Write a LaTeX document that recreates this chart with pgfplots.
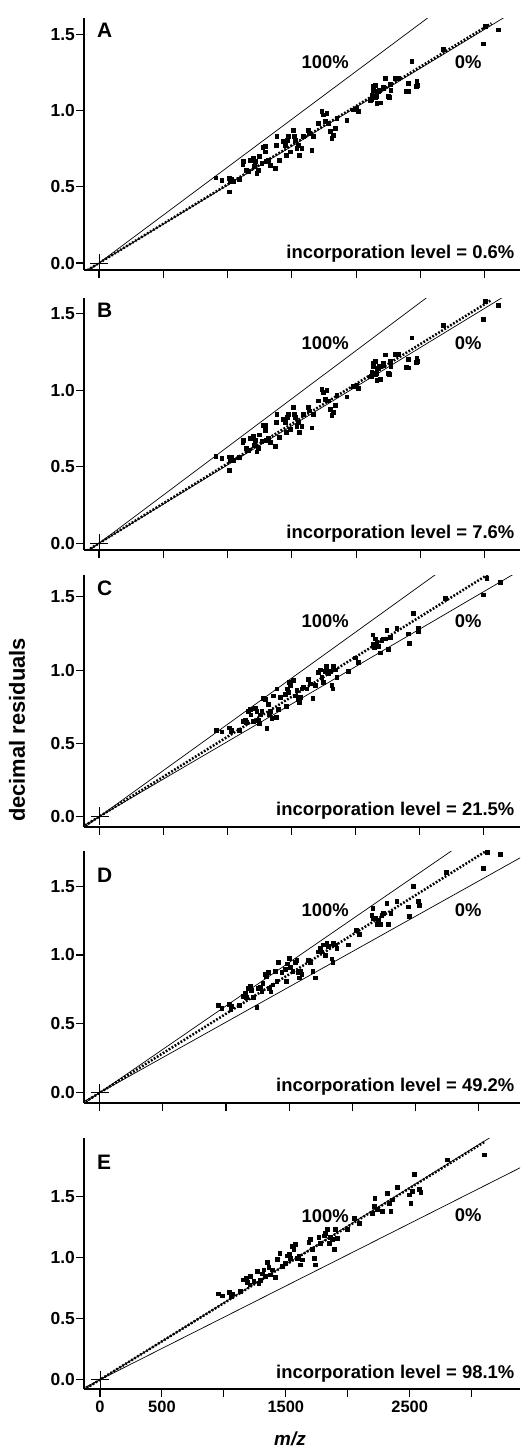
\documentclass[border=0pt]{standalone}
\usepackage{fontspec}
\setmainfont{Liberation Sans}
\usepackage{pgfplots}
\usepackage{pgfplotstable}
\pgfplotsset{compat=1.18}

% panel A (0.6%)
\pgfplotstableread{
x y
907 0.561
954 0.546
1013 0.557
1019 0.535
1032 0.551
1011 0.469
1045 0.535
1091 0.551
1117 0.651
1122 0.667
1143 0.612
1161 0.601
1174 0.678
1200 0.689
1205 0.634
1213 0.667
1226 0.590
1239 0.612
1247 0.700
1265 0.656
1273 0.761
1291 0.765
1291 0.732
1299 0.667
1317 0.673
1330 0.645
1369 0.623
1376 0.776
1382 0.831
1400 0.678
1428 0.798
1446 0.776
1454 0.711
1464 0.809
1472 0.831
1485 0.732
1511 0.875
1519 0.831
1524 0.809
1537 0.754
1550 0.776
1558 0.711
1576 0.754
1589 0.831
1628 0.875
1635 0.853
1654 0.743
1667 0.831
1705 0.919
1732 0.996
1744 0.974
1757 0.930
1771 0.985
1783 0.919
1796 0.864
1809 0.820
1822 0.842
1835 0.886
1848 0.952
1926 0.941
1978 1.007
2004 1.018
2016 0.996
2107 1.072
2121 1.105
2128 1.138
2133 1.160
2146 1.171
2154 1.094
2159 1.051
2164 1.127
2180 1.138
2211 1.149
2224 1.215
2257 1.090
2268 1.138
2302 1.215
2327 1.215
2405 1.182
2405 1.127
2431 1.324
2470 1.193
2475 1.171
2677 1.406
2988 1.441
3001 1.555
3105 1.533
2119 1.075
2145 1.086
2171 1.129
2184 1.053
2210 1.158
2249 1.096
2262 1.173
2391 1.129
2469 1.162
}\dataA

% panel B (7.6%)
\pgfplotstableread{
x y
907 0.570
954 0.555
1013 0.566
1019 0.544
1032 0.560
1011 0.478
1045 0.544
1091 0.560
1117 0.660
1122 0.676
1143 0.621
1161 0.610
1174 0.687
1200 0.698
1205 0.643
1213 0.676
1226 0.599
1239 0.621
1247 0.709
1265 0.665
1273 0.770
1291 0.774
1291 0.741
1299 0.676
1317 0.686
1330 0.658
1369 0.636
1376 0.789
1382 0.844
1400 0.691
1428 0.811
1446 0.789
1454 0.724
1464 0.822
1472 0.844
1485 0.745
1511 0.888
1519 0.844
1524 0.822
1537 0.767
1550 0.789
1558 0.724
1576 0.767
1589 0.844
1628 0.888
1635 0.866
1654 0.756
1667 0.844
1705 0.932
1732 1.009
1744 0.987
1757 0.943
1771 0.998
1783 0.932
1796 0.877
1809 0.837
1822 0.859
1835 0.903
1848 0.969
1926 0.958
1978 1.024
2004 1.035
2016 1.013
2107 1.089
2121 1.122
2128 1.155
2133 1.177
2146 1.188
2154 1.111
2159 1.068
2164 1.144
2180 1.155
2211 1.166
2224 1.232
2257 1.107
2268 1.155
2302 1.235
2327 1.235
2405 1.202
2405 1.147
2431 1.344
2470 1.213
2475 1.191
2677 1.426
2988 1.466
3001 1.580
3105 1.558
2119 1.092
2145 1.103
2171 1.146
2184 1.070
2210 1.175
2249 1.113
2262 1.190
2391 1.149
2469 1.182
}\dataB

% panel C (21.5%)
\pgfplotstableread{
x y
909 0.589
953 0.578
1013 0.606
1023 0.578
1031 0.589
1091 0.589
1122 0.648
1135 0.660
1143 0.644
1161 0.719
1174 0.731
1180 0.695
1201 0.653
1214 0.742
1227 0.719
1240 0.660
1247 0.637
1253 0.695
1266 0.719
1279 0.808
1292 0.801
1305 0.601
1318 0.766
1326 0.695
1331 0.719
1344 0.672
1357 0.825
1378 0.677
1383 0.872
1396 0.731
1409 0.813
1448 0.837
1456 0.754
1466 0.872
1474 0.848
1482 0.919
1487 0.896
1513 0.931
1526 0.825
1539 0.860
1552 0.801
1560 0.778
1565 0.813
1578 0.872
1591 0.884
1617 0.872
1630 0.936
1643 0.907
1664 0.808
1682 0.896
1708 0.983
1721 1.002
1734 0.954
1747 0.919
1760 0.990
1768 1.025
1786 0.978
1799 0.990
1812 0.896
1820 0.872
1825 1.025
1838 1.002
1852 0.950
1943 0.990
1995 1.084
2021 1.053
2133 1.242
2138 1.178
2143 1.155
2151 1.214
2164 1.190
2177 1.162
2190 1.119
2203 1.202
2216 1.214
2229 1.214
2242 1.272
2255 1.143
2268 1.225
2320 1.289
2411 1.249
2419 1.185
2450 1.390
2489 1.265
2489 1.289
2698 1.491
2997 1.515
3023 1.626
3127 1.602
}\dataC

% panel D (49.2%)
\pgfplotstableread{
x y
939 0.633
966 0.616
1026 0.642
1037 0.608
1045 0.626
1106 0.633
1137 0.701
1151 0.721
1159 0.691
1177 0.759
1190 0.772
1203 0.742
1217 0.696
1243 0.621
1256 0.759
1269 0.767
1283 0.734
1291 0.797
1309 0.860
1317 0.847
1336 0.873
1343 0.759
1354 0.734
1370 0.784
1388 0.885
1402 0.810
1415 0.948
1441 0.873
1468 0.898
1476 0.810
1486 0.936
1502 0.978
1507 0.910
1528 0.885
1547 0.948
1560 0.961
1573 0.873
1581 0.835
1587 0.885
1600 0.860
1653 0.961
1666 0.948
1687 0.885
1705 0.835
1732 1.024
1745 1.049
1758 1.024
1771 1.074
1785 0.999
1798 1.087
1811 1.062
1838 0.973
1845 0.948
1851 1.087
1864 1.074
1877 1.049
1970 1.074
2030 1.180
2057 1.150
2155 1.288
2162 1.339
2168 1.263
2181 1.271
2194 1.225
2207 1.250
2221 1.225
2234 1.288
2247 1.301
2273 1.376
2287 1.225
2305 1.301
2353 1.389
2445 1.351
2453 1.281
2485 1.502
2524 1.389
2532 1.364
2744 1.603
3040 1.633
3071 1.749
3172 1.734
}\dataD

% panel E (98.1%)
\pgfplotstableread{
x y
957 0.705
984 0.689
1046 0.716
1057 0.683
1065 0.705
1133 0.724
1159 0.820
1181 0.834
1187 0.798
1208 0.779
1214 0.847
1240 0.806
1268 0.888
1281 0.792
1294 0.814
1308 0.869
1321 0.902
1335 0.847
1349 0.962
1362 0.924
1375 0.861
1389 0.902
1416 0.842
1430 0.989
1451 1.038
1470 0.929
1497 0.956
1510 1.016
1524 1.033
1537 0.997
1551 1.093
1564 1.071
1578 1.107
1591 0.997
1604 1.011
1618 0.943
1632 0.984
1685 1.126
1699 1.153
1713 1.066
1726 0.997
1739 0.943
1766 1.169
1780 1.120
1807 1.180
1820 1.202
1834 1.230
1847 1.120
1861 1.169
1874 1.148
1888 1.071
1901 1.230
1915 1.161
1996 1.230
2049 1.325
2090 1.279
2198 1.366
2211 1.421
2217 1.489
2238 1.399
2279 1.380
2319 1.530
2332 1.448
2346 1.380
2360 1.475
2400 1.579
2494 1.516
2508 1.448
2522 1.544
2535 1.686
2575 1.563
2589 1.538
2805 1.803
3101 1.844
}\dataE

\pgfplotsset{
  panel/.style={
    scale only axis, width=436bp, height=252bp,
    anchor=north west,
    axis x line=bottom, axis y line=left,
    x axis line style={-, line width=1.2bp},
    y axis line style={-, line width=1.8bp},
    tick align=outside, major tick length=8bp,
    tick style={black, line width=1.1bp},
    xtick={0,500,...,3000}, ytick={0,0.5,1,1.5},
    xticklabels={},
    yticklabel style={font=\fontsize{17.5}{19}\selectfont\bfseries, inner sep=1bp,
      /pgf/number format/.cd, fixed, fixed zerofill, precision=1, assume math mode=true},
  },
  zero/.style={black, line width=0.7bp},
  fit/.style={black, line width=2.5bp, dash pattern=on 1.8bp off 1.7bp},
  pts/.style={only marks, mark=square*, mark size=1.9bp, black},
  orig/.style={only marks, mark=+, mark size=9bp, black, mark options={line width=0.9bp}},
}
\tikzset{
  lab/.style={font=\fontsize{18.5}{20}\selectfont\bfseries},
  letter/.style={anchor=north west, font=\fontsize{21}{22}\selectfont\bfseries},
}

\begin{document}
\begin{tikzpicture}
\useasboundingbox (0,0) rectangle (521bp,-1449bp);

% A
\begin{axis}[panel, at={(84bp,-18bp)}, xmin=-117, xmax=3274, ymin=-0.046, ymax=1.61]
\addplot[zero] coordinates {(-300,-0.1536) (4000,2.048)};
\addplot[zero] coordinates {(-300,-0.189) (4000,2.52)};
\addplot[fit] coordinates {(-300,-0.155) (3052,1.575)};
\addplot[pts] table {\dataA};
\addplot[orig] coordinates {(0,0)};
\node[letter] at (axis description cs:0.022,0.992) {A};
\node[lab] at (axis description cs:0.553,0.826) {100\%};
\node[lab] at (axis description cs:0.881,0.825) {0\%};
\node[lab, anchor=base east] at (axis description cs:0.995,0.045) {incorporation level = 0.6\%};
\end{axis}

% B
\begin{axis}[panel, at={(84bp,-298bp)}, xmin=-117, xmax=3274, ymin=-0.044, ymax=1.603]
\addplot[zero] coordinates {(-300,-0.1536) (4000,2.048)};
\addplot[zero] coordinates {(-300,-0.189) (4000,2.52)};
\addplot[fit] coordinates {(-300,-0.156) (3052,1.590)};
\addplot[pts] table {\dataB};
\addplot[orig] coordinates {(0,0)};
\node[letter] at (axis description cs:0.022,0.992) {B};
\node[lab] at (axis description cs:0.553,0.82) {100\%};
\node[lab] at (axis description cs:0.881,0.82) {0\%};
\node[lab, anchor=base east] at (axis description cs:0.995,0.045) {incorporation level = 7.6\%};
\end{axis}

% C
\begin{axis}[panel, at={(84bp,-575bp)}, xmin=-123, xmax=3284, ymin=-0.073, ymax=1.65]
\addplot[zero] coordinates {(-300,-0.1536) (4000,2.048)};
\addplot[zero] coordinates {(-300,-0.189) (4000,2.52)};
\addplot[fit] coordinates {(-300,-0.1635) (3075,1.676)};
\addplot[pts] table {\dataC};
\addplot[orig] coordinates {(0,0)};
\node[letter] at (axis description cs:0.022,0.992) {C};
\node[lab] at (axis description cs:0.553,0.818) {100\%};
\node[lab] at (axis description cs:0.881,0.818) {0\%};
\node[lab, anchor=base east] at (axis description cs:0.995,0.045) {incorporation level = 21.5\%};
\end{axis}

% D
\begin{axis}[panel, at={(84bp,-851bp)}, xmin=-125, xmax=3330, ymin=-0.075, ymax=1.755]
\addplot[zero] coordinates {(-300,-0.1536) (4000,2.048)};
\addplot[zero] coordinates {(-300,-0.189) (4000,2.52)};
\addplot[fit] coordinates {(-300,-0.172) (3106,1.78)};
\addplot[pts] table {\dataD};
\addplot[orig] coordinates {(0,0)};
\node[letter] at (axis description cs:0.022,0.945) {D};
\node[lab] at (axis description cs:0.553,0.766) {100\%};
\node[lab] at (axis description cs:0.881,0.766) {0\%};
\node[lab, anchor=base east] at (axis description cs:0.995,0.045) {incorporation level = 49.2\%};
\end{axis}

% E
\begin{axis}[panel, at={(84bp,-1138bp)}, height=251bp, xmin=-129, xmax=3390, ymin=-0.076, ymax=1.98,
  xticklabels={0,500,,1500,,2500,},
  xticklabel style={font=\fontsize{16.5}{18}\selectfont\bfseries}]
\addplot[zero] coordinates {(-300,-0.1536) (4000,2.048)};
\addplot[zero] coordinates {(-300,-0.189) (4000,2.52)};
\addplot[fit] coordinates {(-300,-0.188) (3100,1.946)};
\addplot[pts] table {\dataE};
\addplot[orig] coordinates {(0,0)};
\node[letter] at (axis description cs:0.022,0.945) {E};
\node[lab] at (axis description cs:0.553,0.69) {100\%};
\node[lab] at (axis description cs:0.881,0.693) {0\%};
\node[lab, anchor=base east] at (axis description cs:0.995,0.04) {incorporation level = 98.1\%};
\end{axis}

\node[font=\fontsize{19}{20}\selectfont\bfseries\itshape] at (290bp,-1439bp) {m/z};
\node[rotate=90, font=\fontsize{22}{24}\selectfont\bfseries] at (17bp,-730bp) {decimal residuals};
\end{tikzpicture}
\end{document}
